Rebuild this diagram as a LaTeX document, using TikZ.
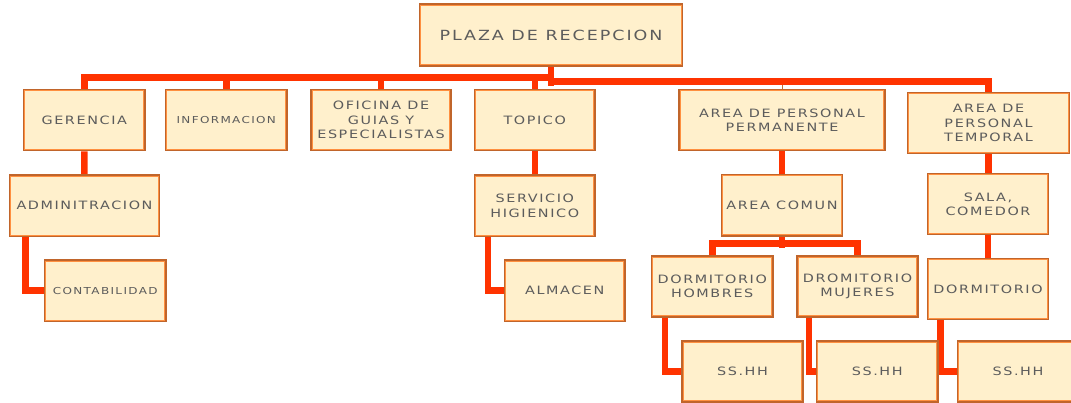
\documentclass[tikz,border=0pt]{standalone}
\usepackage{fontspec}
\newfontfamily\boxfont[LetterSpace=14,FakeStretch=1.25]{DejaVu Sans}
\definecolor{boxedge}{HTML}{C0652B}
\definecolor{boxinner}{HTML}{FF9040}
\definecolor{boxfill}{HTML}{FFF0CC}
\definecolor{txt}{HTML}{5C5C5C}
\definecolor{conncol}{HTML}{FF3300}
\definecolor{thincol}{HTML}{C0703A}
\pgfdeclarelayer{background}
\pgfsetlayers{background,main}
\tikzset{
  box/.style={rectangle, draw=boxedge, line width=1.1pt, fill=boxfill, text=txt,
    align=center, inner sep=0pt, minimum height=61.5pt,
    font=\boxfont\fontsize{11.5}{14.3}\selectfont,
    path picture={\draw[boxinner, line width=0.9pt]
      ([shift={(1.2pt,-1.2pt)}]path picture bounding box.north west) rectangle
      ([shift={(-1.2pt,1.2pt)}]path picture bounding box.south east);}},
  smallfont/.style={font=\boxfont\fontsize{9.6}{12}\selectfont},
  bigfont/.style={font=\boxfont\fontsize{14}{17}\selectfont},
  conn/.style={draw=conncol, line width=6.5pt},
  thinconn/.style={draw=thincol, line width=0.8pt}
}
\begin{document}
\begin{tikzpicture}[x=1pt,y=-1pt]
\useasboundingbox (0,0) rectangle (1071,403);
\clip (0,0) rectangle (1071,403);

\node[box, bigfont, minimum width=263pt, minimum height=62pt] (plaza) at (551,35) {PLAZA DE RECEPCION};
\node[box, minimum width=121.5pt] (ger) at (84.25,120) {GERENCIA};
\node[box, smallfont, minimum width=121.5pt] (info) at (226.25,120) {INFORMACION};
\node[box, minimum width=140pt] (ofi) at (381,120) {OFICINA DE\\GUIAS Y\\ESPECIALISTAS};
\node[box, minimum width=120.5pt] (top) at (534.75,120) {TOPICO};
\node[box, minimum width=206pt] (perm) at (782,120) {AREA DE PERSONAL\\PERMANENTE};
\node[box, minimum width=162pt, minimum height=61pt] (temp) at (988.5,123) {AREA DE\\PERSONAL\\TEMPORAL};
\node[box, minimum width=150pt] (admin) at (84.5,205.75) {ADMINITRACION};
\node[box, minimum width=120.5pt] (serv) at (534.75,205.75) {SERVICIO\\HIGIENICO};
\node[box, minimum width=121pt] (comun) at (782,205.25) {AREA COMUN};
\node[box, minimum width=121pt, minimum height=61pt] (sala) at (988,204) {SALA,\\COMEDOR};
\node[box, smallfont, minimum width=121.5pt] (contab) at (105.25,290.75) {CONTABILIDAD};
\node[box, minimum width=120.5pt] (alm) at (564.75,290.75) {ALMACEN};
\node[box, minimum width=121.5pt, minimum height=61pt] (hom) at (712.25,286.5) {DORMITORIO\\HOMBRES};
\node[box, minimum width=121pt, minimum height=61pt] (muj) at (857.5,286.5) {DROMITORIO\\MUJERES};
\node[box, minimum width=121pt, minimum height=61pt] (dorm) at (988,289) {DORMITORIO};
\node[box, minimum width=121pt, minimum height=61pt] (ss1) at (742.5,371.5) {SS.HH};
\node[box, minimum width=121.5pt, minimum height=61pt] (ss2) at (877.25,371.5) {SS.HH};
\node[box, minimum width=121pt, minimum height=61pt] (ss3) at (1018,371.5) {SS.HH};

\coordinate (busl) at (552,77.5);
\coordinate (busr) at (548,81.5);
\coordinate (cbus) at (782,243.3);

\begin{pgfonlayer}{background}
\fill[white] (0,0) rectangle (1071,403);
% thin link to permanente
\draw[thinconn] (perm.north) -- (perm.north |- busr);
% top bus, left part
\draw[conn] (ger.north) |- (busl);
\draw[conn] (info.north) -- (info.north |- busl);
\draw[conn] (ofi.north) -- (ofi.north |- busl);
\draw[conn] (top.north) -- (top.north |- busl);
% top bus, right part
\draw[conn] (busr) -| (temp.north);
\draw[conn] (plaza.south) -- ++(0,19);
% second level
\draw[conn] (ger.south) -- (admin.north);
\draw[conn] (top.south) -- (serv.north);
\draw[conn] (perm.south) -- (comun.north);
\draw[conn] (temp.south) -- (temp.south |- sala.north);
\draw[conn] (sala.south) -- (dorm.north);
% L links
\draw[conn] ([xshift=16.7pt]admin.south west) |- (contab.west);
\draw[conn] ([xshift=14pt]serv.south west) |- (alm.west);
\draw[conn] ([xshift=13.8pt]hom.south west) |- (ss1.west);
\draw[conn] ([xshift=12.7pt]muj.south west) |- (ss2.west);
\draw[conn] ([xshift=13.5pt]dorm.south west) |- (ss3.west);
% area comun split
\draw[conn] (comun.south) -- ([yshift=-11pt]comun.south);
\draw[conn] (hom.north) |- (cbus) -| (muj.north);
\end{pgfonlayer}
\end{tikzpicture}
\end{document}
